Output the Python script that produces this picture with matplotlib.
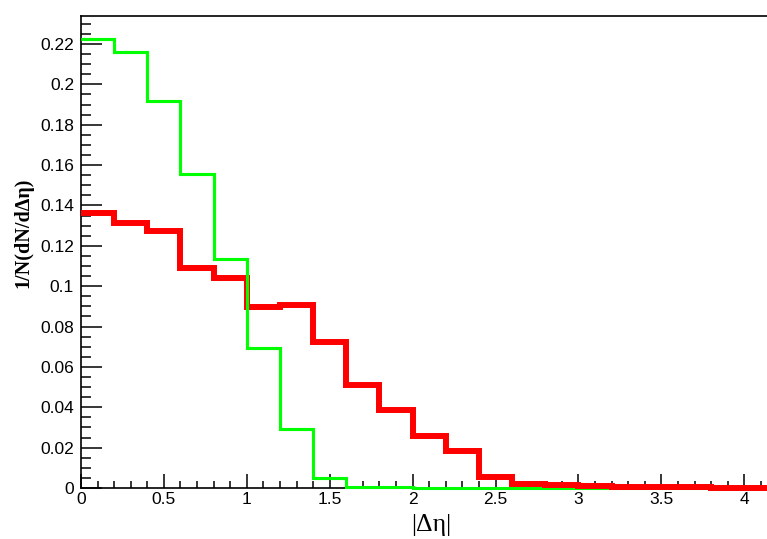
import numpy as np
import matplotlib
matplotlib.use("Agg")
import matplotlib.pyplot as plt
from matplotlib.ticker import MultipleLocator, FuncFormatter

# Bin edges |Δη| (bin width 0.2)
bin_edges = [0.0, 0.2, 0.4, 0.6, 0.8, 1.0, 1.2, 1.4, 1.6, 1.8, 2.0, 2.2, 2.4,
             2.6, 2.8, 3.0, 3.2, 3.4, 3.6, 3.8, 4.0, 4.2]
red_values = [0.1364, 0.1311, 0.1275, 0.1088, 0.1041, 0.0895, 0.0905, 0.0725,
              0.0512, 0.0388, 0.0259, 0.0185, 0.0053, 0.0020, 0.0016, 0.0008,
              0.0007, 0.0006, 0.0003, 0.0002, 0.0002]
green_values = [0.2226, 0.2159, 0.1916, 0.1556, 0.1135, 0.0694, 0.0292, 0.0050,
                0.0007, 0.0003, 0.0001, 0.0, 0.0, 0.0, 0.0, 0.0,
                0.0, 0.0, 0.0, 0.0, 0.0]

W, H = 767, 539
fig = plt.figure(figsize=(W / 100, H / 100), dpi=100)
left, right, top, bottom = 81, 767, 16, 488
ax = fig.add_axes([left / W, 1 - bottom / H, (right - left) / W, (bottom - top) / H])

ax.stairs(green_values, bin_edges, baseline=None, color="#00ff00", linewidth=2.2,
          zorder=3, clip_on=False)
ax.stairs(red_values, bin_edges, baseline=None, color="#ff0000", linewidth=4.3,
          zorder=3.1, clip_on=False)
# redraw green in the upper part so it sits over red where they cross
ax.stairs(green_values[:8], bin_edges[:9], baseline=None, color="#00ff00", linewidth=2.2,
          zorder=3.2)

ax.set_xlim(0, 4.137)
ax.set_ylim(0, 0.2339)

ax.xaxis.set_major_locator(MultipleLocator(0.5))
ax.xaxis.set_minor_locator(MultipleLocator(0.1))
ax.yaxis.set_major_locator(MultipleLocator(0.02))
ax.yaxis.set_minor_locator(MultipleLocator(0.005))

def fmt(v, pos):
    s = ("%.3f" % v).rstrip("0").rstrip(".")
    return s if s != "-0" else "0"

ax.xaxis.set_major_formatter(FuncFormatter(fmt))
ax.yaxis.set_major_formatter(FuncFormatter(fmt))

tickfont = "Liberation Sans"
ax.tick_params(axis="both", which="both", direction="in", colors="black",
               labelsize=12.5, width=1.1)
ax.tick_params(axis="y", which="major", length=15, pad=5)
ax.tick_params(axis="y", which="minor", length=7.5)
ax.tick_params(axis="x", which="major", length=10, pad=3)
ax.tick_params(axis="x", which="minor", length=5)
ax.tick_params(top=False, right=False, which="both")
for lab in ax.get_xticklabels() + ax.get_yticklabels():
    lab.set_fontfamily(tickfont)

ax.spines["right"].set_visible(False)
for s in ("left", "bottom", "top"):
    ax.spines[s].set_linewidth(1.2)
    ax.spines[s].set_color("black")

fig.text(23 / W, 1 - 233 / H, "1/N(dN/dΔη)", rotation=90, ha="center", va="center",
         fontsize=14.5, fontweight="bold", family=["Liberation Serif", "DejaVu Serif"])
fig.text(431 / W, 1 - 525 / H, "|Δη|", ha="center", va="center",
         fontsize=18.5, family=["Liberation Serif", "DejaVu Serif"])

fig.savefig("out.png", dpi=100)
